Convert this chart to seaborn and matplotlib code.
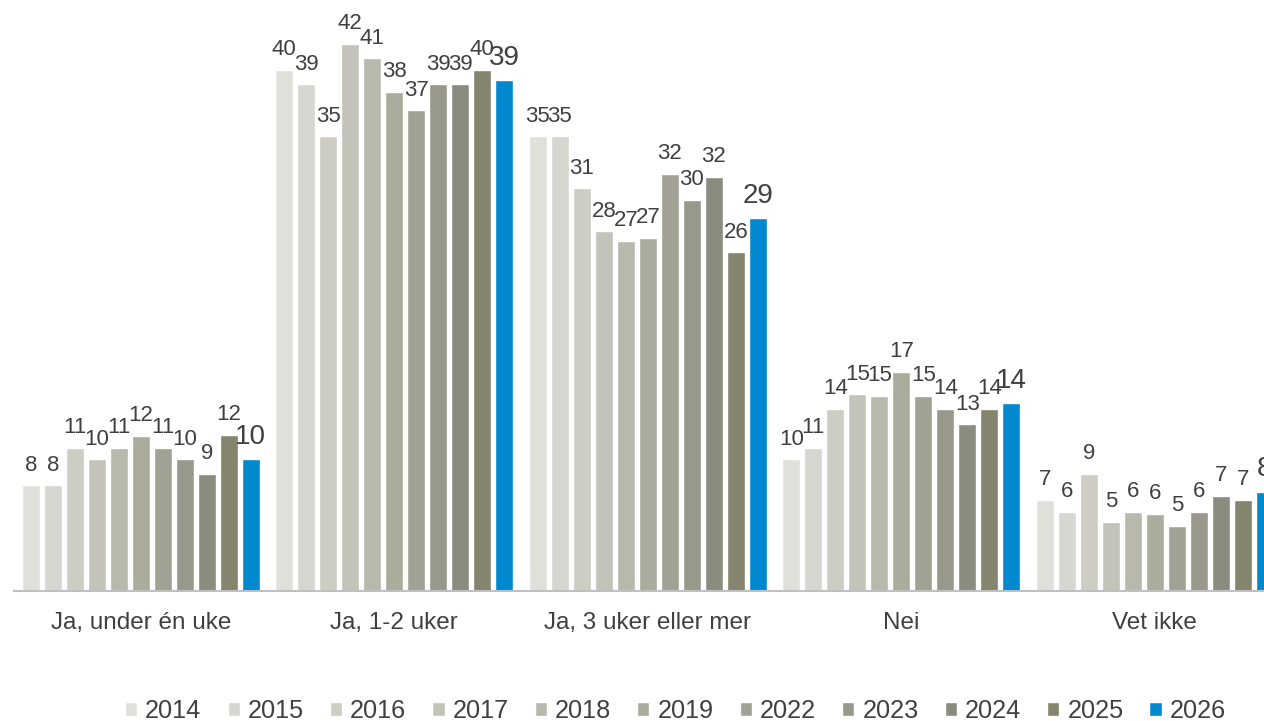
import pandas as pd
import matplotlib.pyplot as plt
import seaborn as sns

categories = ['Ja, under én uke', 'Ja, 1-2 uker', 'Ja, 3 uker eller mer', 'Nei', 'Vet ikke']
years = ['2014', '2015', '2016', '2017', '2018', '2019', '2022', '2023', '2024', '2025', '2026']

under_en_uke = [8.1, 8.1, 11.0, 10.1, 11.0, 11.9, 11.0, 10.1, 9.0, 12.0, 10.1]
en_to_uker = [40.0, 38.9, 34.9, 42.0, 40.9, 38.3, 36.9, 38.9, 38.9, 40.0, 39.2]
tre_uker = [34.9, 34.9, 30.9, 27.6, 26.9, 27.1, 32.0, 30.0, 31.8, 26.0, 28.6]
nei = [10.1, 11.0, 14.0, 15.1, 15.0, 16.8, 15.0, 14.0, 12.8, 14.0, 14.4]
vet_ikke = [7.0, 6.1, 9.0, 5.3, 6.1, 5.9, 5.0, 6.1, 7.3, 7.0, 7.6]

colors = ['#E0E0DA', '#D6D7D0', '#CDCDC4', '#C3C3B9', '#B8B8AC', '#ABAC9C',
          '#A1A293', '#98998A', '#8B8C80', '#85856F', '#0089CF']


def build_frame():
    rows = []
    for cat, vals in zip(categories, [under_en_uke, en_to_uker, tre_uker, nei, vet_ikke]):
        for yr, v in zip(years, vals):
            rows.append({'kategori': cat, 'år': yr, 'verdi': v})
    return pd.DataFrame(rows)


def main():
    sns.set_theme(style='white')
    plt.rcParams['font.family'] = ['Liberation Sans', 'DejaVu Sans']
    text_color = '#404040'

    df = build_frame()
    fig = plt.figure(figsize=(12.64, 7.21), dpi=100)
    ax = fig.add_axes([0.0111, 0.1803, 1.0028, 0.813])

    sns.barplot(data=df, x='kategori', y='verdi', hue='år', order=categories,
                hue_order=years, palette=colors, width=0.955, gap=0.18,
                saturation=1, errorbar=None, ax=ax)

    for i, cont in enumerate(ax.containers):
        labels = [f'{bar.get_height():.0f}' for bar in cont]
        size = 20 if years[i] == '2026' else 16
        ax.bar_label(cont, labels=labels, padding=7, fontsize=size, color=text_color)

    ax.set_xlim(-0.5, 4.5)
    ax.set_ylim(0, 45)
    ax.set_xlabel('')
    ax.set_ylabel('')
    ax.set_yticks([])
    ax.tick_params(axis='x', length=0, pad=15, labelsize=17.5, labelcolor=text_color)
    for side in ['top', 'right', 'left']:
        ax.spines[side].set_visible(False)
    ax.spines['bottom'].set_color('#BFBFBF')
    ax.spines['bottom'].set_linewidth(1.5)

    handles, labels = ax.get_legend_handles_labels()
    ax.get_legend().remove()
    fig.legend(handles, labels, loc='center', bbox_to_anchor=(0.5344, 0.0145),
               ncol=11, frameon=False, fontsize=18.2, labelcolor=text_color,
               handlelength=0.48, handleheight=0.48, handletextpad=0.32,
               columnspacing=1.03, borderpad=0, borderaxespad=0)

    fig.savefig('out.png', dpi=100)


if __name__ == '__main__':
    main()
